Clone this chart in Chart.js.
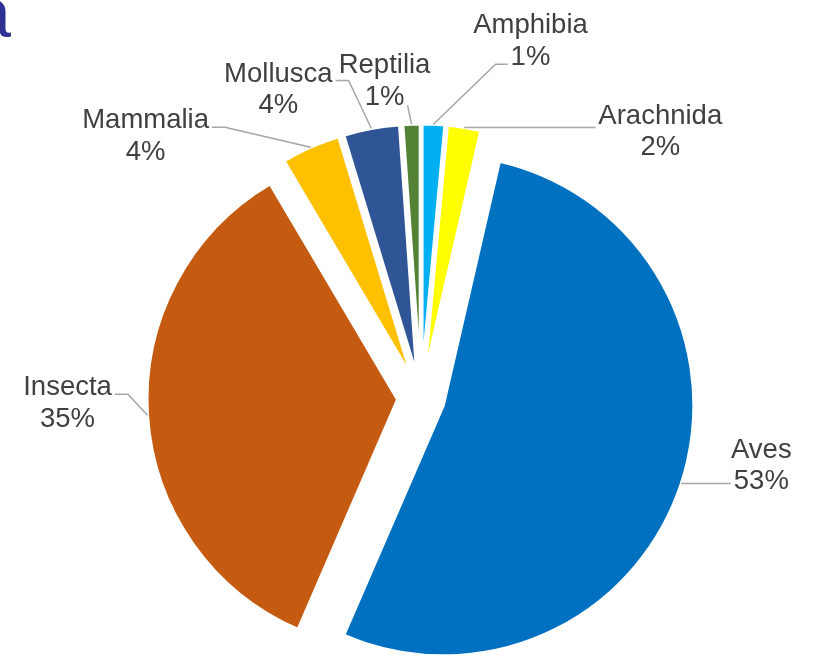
<!DOCTYPE html>
<html>
<head>
<meta charset="utf-8">
<script src="https://cdn.jsdelivr.net/npm/chart.js@4"></script>
<style>
  html, body { margin: 0; padding: 0; background: #ffffff; }
  #wrap { width: 814px; height: 658px; position: relative; }
</style>
</head>
<body>
<div id="wrap"><canvas id="pie-chart"></canvas></div>
<script>
// data (shares in %)
const categories = ["Amphibia", "Arachnida", "Aves", "Insecta", "Mammalia", "Mollusca", "Reptilia"];
const shares = [1.45, 2.15, 52.9, 35.0, 3.8, 3.6, 1.1];
const sliceColors = ["#00B0F0", "#FFFF00", "#0070C0", "#C55A11", "#FFC000", "#2F5597", "#548235"];

// label placement, relative to the outer edge of each slice
const labelNudge = [[97, -85], [196, 2], [80, -20], [-80, -14], [-165, -13], [-93, -41], [-27, -45]];
const EXPLODE = 23.5;
const FONT = '27.5px "Liberation Sans", Arial, sans-serif';
const LINE_GAP = 31.3;

function explodedAnchor(arc) {
  let mid = (arc.startAngle + arc.endAngle) / 2;
  let r = arc.outerRadius + EXPLODE;
  return { x: arc.x + Math.cos(mid) * r, y: arc.y + Math.sin(mid) * r };
}

// every slice pulled out along its mid angle, radius kept the same
const explodePlugin = {
  id: "explode",
  beforeDatasetDraw(chart, args) {
    let ctx = chart.ctx;
    args.meta.data.forEach(function (arc) {
      let mid = (arc.startAngle + arc.endAngle) / 2;
      ctx.save();
      ctx.translate(Math.cos(mid) * EXPLODE, Math.sin(mid) * EXPLODE);
      arc.draw(ctx);
      ctx.restore();
    });
    return false;
  },
};

const labelPlugin = {
  id: "sliceLabels",
  afterDatasetsDraw(chart) {
    let ctx = chart.ctx;
    let arcs = chart.getDatasetMeta(0).data;
    let total = shares.reduce(function (a, b) { return a + b; }, 0);
    ctx.save();
    ctx.font = FONT;
    arcs.forEach(function (arc, i) {
      let a = explodedAnchor(arc);
      let lx = a.x + labelNudge[i][0];
      let ly = a.y + labelNudge[i][1];
      let lines = [categories[i], Math.round(shares[i] / total * 100) + "%"];
      let w1 = ctx.measureText(lines[0]).width;
      let w2 = ctx.measureText(lines[1]).width;
      let halfW = Math.max(w1, w2) / 2;

      // leader line
      let pts = [[a.x, a.y]];
      if (a.x > lx - halfW && a.x < lx + halfW) {
        pts.push([a.x + (lx - a.x) * 0.15, ly + 26]);
      } else if (a.x < lx) {
        let ty = Math.min(Math.max(a.y, ly - 7), ly + 25);
        let w = ty < ly ? w1 : w2;
        let tx = lx - w / 2 - 3;
        pts.push([tx - 12, ty], [tx, ty]);
      } else {
        let ty = ly - 7;
        let tx = lx + w1 / 2 + 3;
        pts.push([tx + 13, ty], [tx, ty]);
      }
      ctx.strokeStyle = "#A6A6A6";
      ctx.lineWidth = 1.5;
      ctx.beginPath();
      ctx.moveTo(pts[0][0], pts[0][1]);
      for (let k = 1; k < pts.length; k++) ctx.lineTo(pts[k][0], pts[k][1]);
      ctx.stroke();

      ctx.fillStyle = "#404040";
      ctx.textAlign = "center";
      ctx.textBaseline = "alphabetic";
      ctx.fillText(lines[0], lx, ly - 5.8);
      ctx.fillText(lines[1], lx, ly - 5.8 + LINE_GAP);
    });

    // cut-off title letter in the top left corner
    ctx.font = '70px "Liberation Sans", Arial, sans-serif';
    ctx.fillStyle = "#2E3192";
    ctx.textAlign = "left";
    let m = ctx.measureText("a");
    ctx.fillText("a", 11 - m.actualBoundingBoxRight, 37);
    ctx.restore();
  },
};

let config = {
  type: "pie",
  data: {
    labels: categories,
    datasets: [
      {
        data: shares,
        backgroundColor: sliceColors,
        borderColor: "#FFFFFF",
        borderWidth: 3,
        clip: false,
      },
    ],
  },
  options: {
    responsive: true,
    maintainAspectRatio: false,
    animation: false,
    layout: {
      // centre of the pie near (421, 398), radius 252
      padding: { left: 141, right: 113, top: 146, bottom: 8 },
    },
    plugins: {
      legend: { display: false },
      tooltip: { enabled: false },
    },
  },
  plugins: [explodePlugin, labelPlugin],
};

let pieChart = new Chart(document.getElementById("pie-chart"), config);
</script>
</body>
</html>
